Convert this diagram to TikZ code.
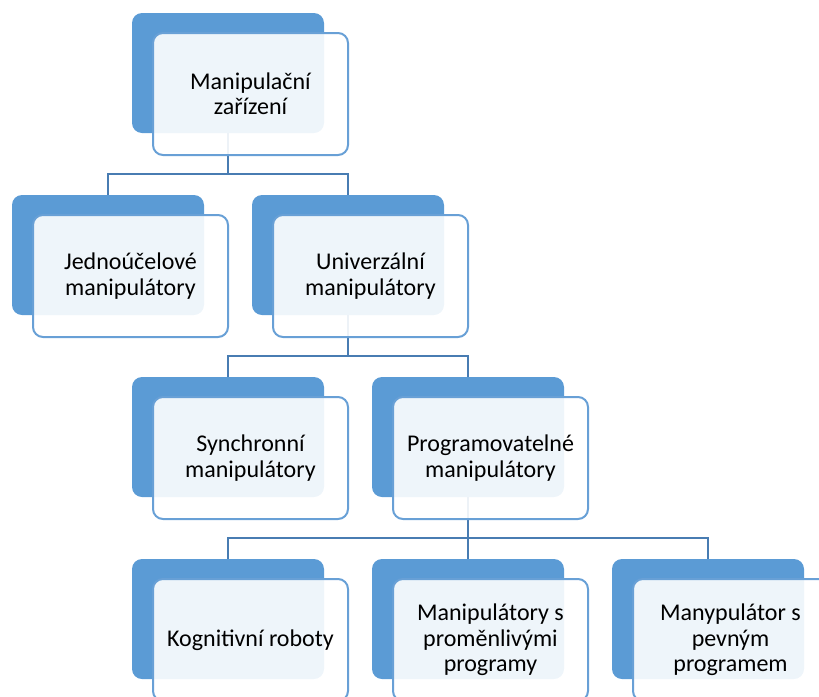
\documentclass[tikz,border=0pt]{standalone}
\usepackage{fontspec}
\setmainfont{Carlito}
\definecolor{backblue}{RGB}{91, 155, 213}
\definecolor{edgeblue}{RGB}{104, 160, 214}
\definecolor{linkblue}{RGB}{72, 124, 178}

\tikzset{
  backbox/.style={shape=rectangle,
                  rounded corners=7.5pt,
                  fill=backblue,
                  minimum width=144pt,
                  minimum height=90pt},
  frontbox/.style={shape=rectangle,
                   rounded corners=7.5pt,
                   draw=edgeblue,
                   line width=1.5pt,
                   fill=white,
                   fill opacity=0.9,
                   text opacity=1,
                   text=black,
                   align=center,
                   minimum width=146.25pt,
                   minimum height=91.5pt,
                   font=\fontsize{18}{19}\selectfont},
  link/.style={draw=linkblue,
               line width=1.5pt}
}

\begin{document}
\begin{tikzpicture}[x=0.75pt, y=-0.75pt]
        \useasboundingbox (0,0) rectangle (819,697);
        \clip (0,0) rectangle (819,697);
        % blue back plates
        \node[backbox] (topB) at (228,73) {};
        \node[backbox] (jedB) at (108,255) {};
        \node[backbox] (uniB) at (348,255) {};
        \node[backbox] (synB) at (228,437) {};
        \node[backbox] (prgB) at (468,437) {};
        \node[backbox] (kogB) at (228,619) {};
        \node[backbox] (promB) at (468,619) {};
        \node[backbox] (pevB) at (708,619) {};
        % connectors
        \draw[link] (topB.south) -- ++(0,41) -| (jedB.north);
        \draw[link] (topB.south) -- ++(0,41) -| (uniB.north);
        \draw[link] (uniB.south) -- ++(0,41) -| (synB.north);
        \draw[link] (uniB.south) -- ++(0,41) -| (prgB.north);
        \draw[link] (prgB.south) -- ++(0,41) -| (kogB.north);
        \draw[link] (prgB.south) -- (promB.north);
        \draw[link] (prgB.south) -- ++(0,41) -| (pevB.north);
        % text boxes
        \node[frontbox] (top) at (250.5,94) {Manipulační\\zařízení};
        \node[frontbox] (jed) at (130.5,276) {Jednoúčelové\\manipulátory};
        \node[frontbox] (uni) at (370.5,276) {Univerzální\\manipulátory};
        \node[frontbox] (syn) at (250.5,458) {Synchronní\\manipulátory};
        \node[frontbox] (prg) at (490.5,458) {Programovatelné\\manipulátory};
        \node[frontbox] (kog) at (250.5,640) {Kognitivní roboty};
        \node[frontbox] (prom) at (490.5,640) {Manipulátory s\\proměnlivými\\programy};
        \node[frontbox] (pev) at (730.5,640) {Manypulátor s\\pevným\\programem};
    \end{tikzpicture}
\end{document}
